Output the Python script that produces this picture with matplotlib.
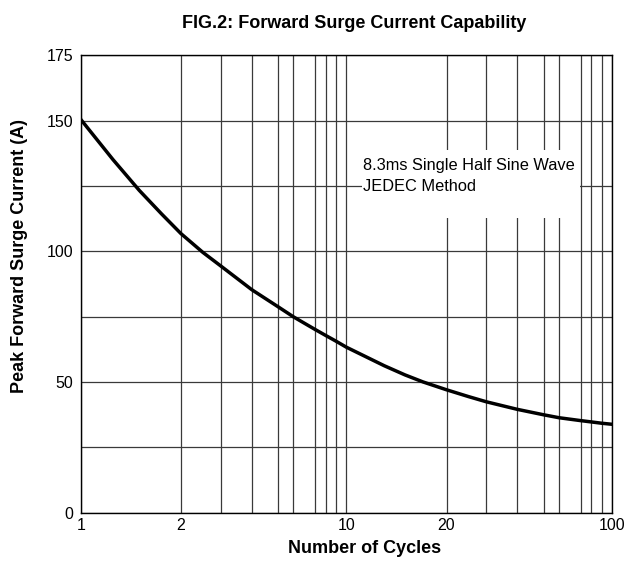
import numpy as np
import matplotlib
matplotlib.use("Agg")
import matplotlib.pyplot as plt
from matplotlib.ticker import FixedLocator, NullFormatter
from matplotlib.patches import Rectangle

plt.rcParams['font.family'] = ['Liberation Sans', 'DejaVu Sans']

# curve
cycles = [1, 1.25, 1.5, 1.75, 2, 2.5, 3, 4, 5, 6, 7, 8, 9, 10,
          13, 15, 17, 20, 25, 30, 40, 50, 60, 70, 80, 90, 100]
current = [150.5, 135.1, 123.3, 114.3, 106.8, 99.6, 94.4, 85.3, 78.7, 74.9,
           70.1, 67.8, 65.6, 63.3, 56.2, 52.7, 50.0, 47.0, 44.4, 42.4, 39.5,
           37.4, 36.3, 35.2, 34.7, 34.2, 33.8]

x_major = [1, 2, 10, 20, 100]
x_minor = [3, 4, 5, 6, 7, 8, 9, 30, 40, 50, 60, 70, 80, 90]
y_major = [0, 50, 100, 150, 175]
y_minor = [25, 75, 125]

# the printed log paper is not a true log scale: where each gridline sits
# inside a decade (fraction of the decade width)
grid_nodes = [1, 2, 3, 4, 5, 6, 7, 8, 9, 10, 20, 30, 40, 50, 60, 70, 80, 90, 100]
dec_frac = [0, 0.377, 0.527, 0.644, 0.744, 0.801, 0.882, 0.922, 0.961]
grid_pos = dec_frac + [1 + f for f in dec_frac] + [2]
log_nodes = np.log10(grid_nodes)


def fwd(x):
    x = np.asarray(x, dtype=float)
    lx = np.log10(np.clip(x, 1e-6, None))
    return np.interp(lx, log_nodes, grid_pos)


def inv(t):
    return 10 ** np.interp(np.asarray(t, dtype=float), grid_pos, log_nodes)


fig = plt.figure(figsize=(6.36, 5.62), dpi=100)
ax = fig.add_axes([0.1269, 0.0879, 0.8354, 0.8137])

ax.set_xscale('function', functions=(fwd, inv))
ax.set_xlim(1, 100)
ax.set_ylim(0, 175)

ax.xaxis.set_major_locator(FixedLocator(x_major))
ax.xaxis.set_minor_locator(FixedLocator(x_minor))
ax.xaxis.set_minor_formatter(NullFormatter())
ax.set_xticklabels([str(v) for v in x_major])
ax.yaxis.set_major_locator(FixedLocator(y_major))
ax.yaxis.set_minor_locator(FixedLocator(y_minor))

ax.grid(True, which='both', color='#3a3a3a', lw=0.9, zorder=1)
ax.set_axisbelow(True)
ax.tick_params(which='both', length=0, labelsize=11.5, colors='black')
ax.tick_params(axis='y', pad=5.3)
ax.tick_params(axis='x', pad=4)
for s in ax.spines.values():
    s.set_color('black')
    s.set_linewidth(1.0)
    s.set_zorder(5)

ax.plot(cycles, current, color='black', lw=2.5, zorder=4, solid_capstyle='round')

# white patch behind the note
ax.add_patch(Rectangle((0.5295, 0.644), 0.41, 0.149, transform=ax.transAxes,
                       facecolor='white', edgecolor='none', zorder=2))
ax.text(0.532, 0.737, "8.3ms Single Half Sine Wave\nJEDEC Method",
        transform=ax.transAxes, ha='left', va='center', fontsize=11.8,
        linespacing=1.5, zorder=3)

fig.text(354.3 / 636, 1 - 28.3 / 562, "FIG.2: Forward Surge Current Capability",
         ha='center', va='baseline', fontsize=13, fontweight='bold')
fig.text(20 / 636, 1 - 256 / 562, "Peak Forward Surge Current (A)",
         ha='center', va='center', rotation=90, fontsize=13, fontweight='bold')
fig.text(365 / 636, 1 - 553 / 562, "Number of Cycles",
         ha='center', va='baseline', fontsize=13, fontweight='bold')

fig.savefig("out.png", dpi=100)
